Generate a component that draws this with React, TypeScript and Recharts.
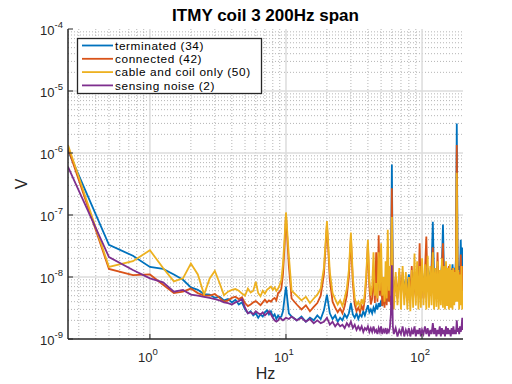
import React from 'react';
import { LineChart, Line, XAxis, YAxis, CartesianGrid } from 'recharts';

// Frequencies (Hz)
const FREQ = [
  0.25, 0.5, 0.75, 1, 1.25, 1.5, 1.75, 2, 2.25, 2.5,
  2.75, 3, 3.25, 3.5, 3.75, 4, 4.25, 4.5, 4.75, 5,
  5.25, 5.5, 5.75, 6, 6.25, 6.5, 6.75, 7, 7.25, 7.5,
  7.75, 8, 8.25, 8.5, 8.75, 9, 9.25, 9.5, 9.75, 10,
  10.5, 11, 12, 13, 14, 15, 16, 17, 18, 19,
  20, 21, 22, 23, 24, 25, 26, 27, 28, 29,
  30, 31, 32, 33, 34, 35, 36, 37, 38, 39,
  40, 41, 42, 43, 44, 45, 46, 47, 48, 49,
  50, 51, 52, 53, 54, 55, 56, 57, 58, 59,
  60, 61, 62, 64, 66, 68, 70, 72, 74, 76,
  78, 80, 82, 84, 86, 88, 90, 92, 94, 96,
  98, 100, 102.5, 105, 107.5, 110, 112.5, 115, 117.5, 120,
  122.5, 125, 127.5, 130, 132.5, 135, 137.5, 140, 142.5, 145,
  147.5, 150, 152.5, 155, 157.5, 160, 162.5, 165, 167.5, 170,
  172.5, 175, 177.5, 180, 182.5, 185, 187.5, 190, 192.5, 195,
  197.5, 200,
];

const TERMINATED = [
  1.1e-6, 3.3e-8, 2.2e-8, 1.45e-8, 1.35e-8, 1.1e-8, 9e-9, 6.8e-9, 6.2e-9, 5.3e-9,
  5.2e-9, 4.6e-9, 4.8e-9, 4.2e-9, 4.4e-9, 3.9e-9, 4.3e-9, 3.6e-9, 3.9e-9, 3.0e-9,
  2.6e-9, 2.8e-9, 2.4e-9, 2.6e-9, 2.2e-9, 2.5e-9, 2.3e-9, 2.7e-9, 2.9e-9, 2.5e-9,
  2.8e-9, 2.3e-9, 2.5e-9, 2.1e-9, 2.4e-9, 2.2e-9, 2.3e-9, 2.8e-9, 4.5e-9, 7e-9,
  2.6e-9, 2.3e-9, 2.0e-9, 2.3e-9, 1.9e-9, 2.2e-9, 2.0e-9, 2.4e-9, 2.1e-9, 2.9e-9,
  5.2e-9, 2.6e-9, 2.1e-9, 2.4e-9, 1.9e-9, 2.2e-9, 2.0e-9, 2.5e-9, 2.2e-9, 2.6e-9,
  3.8e-9, 2.5e-9, 2.2e-9, 2.6e-9, 2.1e-9, 2.5e-9, 2.3e-9, 2.8e-9, 2.4e-9, 2.9e-9,
  3.5e-9, 2.7e-9, 3.0e-9, 2.6e-9, 3.2e-9, 2.8e-9, 3.5e-9, 3.0e-9, 3.8e-9, 3.3e-9,
  4.2e-9, 3.4e-9, 4.5e-9, 3.7e-9, 5e-9, 4e-9, 5.5e-9, 4.4e-9, 6e-9, 5e-9,
  6.5e-7, 8e-9, 5e-9, 9e-9, 5.5e-9, 8e-9, 6e-9, 1.0e-8, 7e-9, 9e-9,
  6.5e-9, 1.1e-8, 7e-9, 9.5e-9, 6e-9, 1.2e-8, 7.5e-9, 1.0e-8, 6.5e-9, 1.3e-8,
  8e-9, 1.1e-8, 7e-9, 1.2e-8, 8e-9, 1.4e-8, 9e-9, 1.2e-8, 1.5e-8, 7.8e-8,
  1.0e-8, 1.3e-8, 8e-9, 1.5e-8, 9e-9, 1.2e-8, 1.0e-8, 1.6e-8, 7e-8, 1.1e-8,
  8e-9, 1.3e-8, 9e-9, 1.2e-8, 1.5e-8, 9e-9, 1.3e-8, 1.0e-8, 1.6e-8, 9e-9,
  1.4e-8, 1.0e-8, 2e-8, 3e-6, 2e-8, 1.1e-8, 1.5e-8, 9e-9, 4e-8, 1.2e-8,
  3e-8, 1.0e-8,
];

const CONNECTED = [
  1.2e-6, 1.35e-8, 1.07e-8, 1.1e-8, 7.5e-9, 5.5e-9, 5.8e-9, 6.5e-9, 5.5e-9, 5.0e-9,
  5.0e-9, 5.3e-9, 4.6e-9, 4.0e-9, 4.2e-9, 4.6e-9, 4.8e-9, 4.4e-9, 4.7e-9, 3.8e-9,
  3.4e-9, 3.6e-9, 3.9e-9, 4.1e-9, 3.8e-9, 3.5e-9, 3.9e-9, 4.3e-9, 3.9e-9, 4.2e-9,
  4.0e-9, 4.4e-9, 4.6e-9, 4.2e-9, 5.5e-9, 5.8e-9, 6.5e-9, 1.1e-8, 3e-8, 1.0e-7,
  1.5e-8, 4.5e-9, 3.6e-9, 3.0e-9, 3.5e-9, 2.8e-9, 3.3e-9, 3.8e-9, 5e-9, 1.1e-8,
  7e-8, 9e-9, 4e-9, 3.2e-9, 2.7e-9, 3.1e-9, 2.6e-9, 3.4e-9, 5e-9, 1.0e-8,
  4.5e-8, 8e-9, 3.6e-9, 2.8e-9, 3.2e-9, 2.7e-9, 3.4e-9, 2.9e-9, 4.5e-9, 1.0e-8,
  3.5e-8, 7e-9, 3.6e-9, 4.5e-9, 1.2e-8, 3.8e-9, 2.5e-8, 4e-9, 4.7e-8, 5e-9,
  1.2e-8, 3.4e-9, 6e-9, 3.2e-9, 9e-9, 3.5e-9, 3e-8, 4e-9, 8e-9, 3.5e-9,
  2.7e-7, 6e-9, 4e-9, 1.0e-8, 4.5e-9, 1.2e-8, 5e-9, 1.2e-8, 4.5e-9, 8e-9,
  4e-9, 1.0e-8, 5e-9, 1.5e-8, 4.5e-9, 9e-9, 5e-9, 1.1e-8, 5e-9, 3.5e-8,
  5e-9, 1.0e-8, 4.5e-9, 1.2e-8, 4.5e-8, 6e-9, 1.0e-8, 5e-9, 1.3e-8, 3e-8,
  6e-9, 1.2e-8, 5e-9, 2.5e-8, 6e-9, 1.1e-8, 5e-9, 1.5e-8, 3.5e-8, 6e-9,
  1.4e-8, 5e-9, 1.2e-8, 6e-9, 1.5e-8, 5e-9, 1.2e-8, 6e-9, 1.4e-8, 5.5e-9,
  1.3e-8, 6e-9, 1.5e-8, 1.35e-6, 1.5e-8, 6e-9, 1.2e-8, 5e-9, 2.3e-8, 6e-9,
  1.5e-8, 5e-9,
];

const CABLE_COIL = [
  1.35e-6, 1.45e-8, 1.8e-8, 2.7e-8, 1.4e-8, 8.5e-9, 9.5e-9, 1.65e-8, 1.1e-8, 5.2e-9,
  9.5e-9, 1.25e-8, 8e-9, 5.1e-9, 5.8e-9, 6.2e-9, 6.4e-9, 6.0e-9, 5.4e-9, 5.0e-9,
  6.5e-9, 5.6e-9, 6.0e-9, 8.4e-9, 5.5e-9, 4.9e-9, 6.0e-9, 5.4e-9, 6.2e-9, 6.6e-9,
  7.0e-9, 6.2e-9, 6.8e-9, 6.0e-9, 6.5e-9, 7.5e-9, 9e-9, 1.6e-8, 4e-8, 1.1e-7,
  2.2e-8, 6e-9, 5e-9, 4.2e-9, 4.8e-9, 3.8e-9, 4.5e-9, 5.2e-9, 6.5e-9, 1.4e-8,
  8e-8, 1.2e-8, 5.5e-9, 4.4e-9, 3.6e-9, 4.2e-9, 3.4e-9, 4.6e-9, 6.5e-9, 1.3e-8,
  5.2e-8, 1e-8, 4.6e-9, 3.5e-9, 4.0e-9, 3.3e-9, 4.4e-9, 3.6e-9, 5.5e-9, 1.2e-8,
  4e-8, 9e-9, 5e-9, 7e-9, 2.5e-8, 5e-9, 8e-9, 4.5e-9, 2.5e-8, 6e-9,
  3.5e-8, 5e-9, 1.0e-8, 4e-9, 1.8e-8, 4.5e-9, 5.8e-8, 6e-9, 1.5e-8, 5e-9,
  9.3e-8, 5e-9, 3e-9, 1.2e-8, 3.5e-9, 1.4e-8, 3e-9, 1.5e-8, 3.5e-9, 1.2e-8,
  3e-9, 1.0e-8, 2.8e-9, 1.3e-8, 3.2e-9, 2.4e-8, 3.5e-9, 1.8e-8, 3e-9, 1.5e-8,
  3.2e-9, 2.0e-8, 3.5e-9, 1.6e-8, 3e-9, 2.2e-8, 3.2e-9, 1.5e-8, 3.5e-9, 2.5e-8,
  3e-9, 1.4e-8, 3.3e-9, 1.8e-8, 3e-9, 1.3e-8, 3.5e-9, 2.0e-8, 3.2e-9, 1.5e-8,
  3e-9, 1.8e-8, 3.4e-9, 1.4e-8, 3e-9, 1.6e-8, 3.2e-9, 1.3e-8, 3e-9, 1.4e-8,
  3.5e-9, 1.2e-8, 4e-9, 4.8e-7, 4e-9, 1.3e-8, 3e-9, 1.1e-8, 3.5e-9, 1.5e-8,
  3e-9, 6e-9,
];

const SENSING = [
  6e-7, 2.1e-8, 1.3e-8, 9.5e-9, 8.2e-9, 5.8e-9, 6.2e-9, 5.2e-9, 5.0e-9, 4.8e-9,
  4.6e-9, 4.4e-9, 4.2e-9, 3.9e-9, 3.8e-9, 3.6e-9, 3.9e-9, 4.1e-9, 4.4e-9, 3.2e-9,
  2.6e-9, 2.7e-9, 2.5e-9, 2.8e-9, 2.6e-9, 2.5e-9, 2.7e-9, 2.4e-9, 2.6e-9, 2.8e-9,
  2.5e-9, 2.2e-9, 2.0e-9, 1.9e-9, 2.0e-9, 2.2e-9, 2.1e-9, 2.0e-9, 2.1e-9, 2.2e-9,
  2.1e-9, 2.3e-9, 2.0e-9, 2.2e-9, 1.9e-9, 2.1e-9, 1.8e-9, 2.0e-9, 1.8e-9, 1.9e-9,
  2.2e-9, 1.7e-9, 1.9e-9, 1.6e-9, 1.8e-9, 1.6e-9, 1.7e-9, 1.5e-9, 1.8e-9, 1.6e-9,
  1.9e-9, 1.5e-9, 1.7e-9, 1.4e-9, 1.6e-9, 1.4e-9, 1.6e-9, 1.3e-9, 1.5e-9, 1.4e-9,
  1.6e-9, 1.3e-9, 1.5e-9, 1.3e-9, 1.6e-9, 1.3e-9, 1.4e-9, 1.2e-9, 1.5e-9, 1.3e-9,
  1.6e-9, 1.2e-9, 1.4e-9, 1.3e-9, 1.5e-9, 1.2e-9, 1.4e-9, 1.3e-9, 1.5e-9, 2.5e-9,
  1.55e-8, 1.6e-9, 1.2e-9, 1.5e-9, 1.1e-9, 1.4e-9, 1.2e-9, 1.6e-9, 1.1e-9, 1.4e-9,
  1.2e-9, 1.5e-9, 1.1e-9, 1.4e-9, 1.2e-9, 1.6e-9, 1.1e-9, 1.4e-9, 1.2e-9, 1.5e-9,
  1.1e-9, 1.4e-9, 1.2e-9, 1.6e-9, 1.2e-9, 1.5e-9, 1.1e-9, 1.4e-9, 1.2e-9, 1.8e-9,
  1.2e-9, 1.5e-9, 1.1e-9, 1.4e-9, 1.2e-9, 1.6e-9, 1.1e-9, 1.5e-9, 1.2e-9, 1.4e-9,
  1.1e-9, 1.6e-9, 1.2e-9, 1.5e-9, 1.2e-9, 1.4e-9, 1.1e-9, 1.5e-9, 1.2e-9, 1.6e-9,
  1.2e-9, 1.4e-9, 1.2e-9, 2.0e-9, 1.3e-9, 1.5e-9, 1.2e-9, 1.6e-9, 1.3e-9, 1.5e-9,
  2.2e-9, 1.4e-9,
];

const SERIES_KEYS = ['terminated', 'connected', 'cable', 'sensing'];
const SERIES_NAMES = ['terminated (34)', 'connected (42)', 'cable and coil only (50)', 'sensing noise (2)'];
const SERIES_COLORS = ['#0072BD', '#D95319', '#EDB120', '#7E2F8E'];

const X_DOMAIN = [0.25, 200];
const Y_DOMAIN = [1e-9, 1e-4];
const X_DECADES = [1, 10, 100];
const Y_DECADES = [1e-9, 1e-8, 1e-7, 1e-6, 1e-5, 1e-4];
const X_MAJOR_GRID = [1, 10, 100];
const Y_MAJOR_GRID = [1e-8, 1e-7, 1e-6, 1e-5];
const MULTS = [2, 3, 4, 5, 6, 7, 8, 9];
const X_MINOR_GRID = [0.3, 0.4, 0.5, 0.6, 0.7, 0.8, 0.9]
  .concat(MULTS.map((m) => m))
  .concat(MULTS.map((m) => m * 10));
const Y_MINOR_GRID = [1e-9, 1e-8, 1e-7, 1e-6, 1e-5].flatMap((d) => MULTS.map((m) => m * d));

const TITLE = 'ITMY coil 3 200Hz span';
const X_LABEL = 'Hz';
const Y_LABEL = 'V';

const FONT = '"Liberation Sans", Arial, Helvetica, sans-serif';
const AXIS_COLOR = '#262626';

const data = FREQ.map((f, i) => ({
  f,
  terminated: TERMINATED[i],
  connected: CONNECTED[i],
  cable: CABLE_COIL[i],
  sensing: SENSING[i],
}));

const XTick = (props: any) => {
  const { x, y, payload } = props;
  const exp = Math.round(Math.log10(payload.value));
  return (
    <text x={x - 2} y={y + 23} textAnchor="middle" fontSize={13} fill={AXIS_COLOR} fontFamily={FONT}>
      10
      <tspan dy={-7} fontSize={9.5}>{exp}</tspan>
    </text>
  );
};

const YTick = (props: any) => {
  const { x, y, payload } = props;
  const exp = Math.round(Math.log10(payload.value));
  return (
    <text x={x} y={y + 6} textAnchor="end" fontSize={13} fill={AXIS_COLOR} fontFamily={FONT}>
      10
      <tspan dy={-7} fontSize={9.5}>{exp}</tspan>
    </text>
  );
};

const Empty = () => <g />;

export default function App() {
  return (
    <div style={{ position: 'absolute', left: 0, top: 0, width: 512, height: 384, background: '#ffffff' }}>
      <LineChart
        width={512}
        height={384}
        data={data}
        margin={{ top: 29, right: 49, left: 0, bottom: 0 }}
      >
        <CartesianGrid
          horizontalValues={Y_MINOR_GRID}
          verticalValues={X_MINOR_GRID}
          stroke="#b5b5b5"
          strokeDasharray="1 2"
          strokeWidth={1}
          fill="none"
        />
        <CartesianGrid
          horizontalValues={Y_MAJOR_GRID}
          verticalValues={X_MAJOR_GRID}
          stroke="#dcdcdc"
          strokeWidth={1.5}
          fill="none"
        />
        <XAxis
          dataKey="f"
          type="number"
          scale="log"
          domain={X_DOMAIN}
          allowDataOverflow
          ticks={X_DECADES}
          interval={0}
          height={45}
          tickSize={-5}
          tickMargin={5}
          tick={<XTick />}
          axisLine={{ stroke: AXIS_COLOR, strokeWidth: 1.5 }}
          tickLine={{ stroke: AXIS_COLOR, strokeWidth: 1 }}
        />
        <XAxis
          xAxisId="top"
          orientation="top"
          dataKey="f"
          type="number"
          scale="log"
          domain={X_DOMAIN}
          allowDataOverflow
          ticks={X_DECADES}
          interval={0}
          height={0}
          tickSize={-5}
          tick={<Empty />}
          axisLine={{ stroke: AXIS_COLOR, strokeWidth: 1.5 }}
          tickLine={{ stroke: AXIS_COLOR, strokeWidth: 1 }}
        />
        <YAxis
          type="number"
          scale="log"
          domain={Y_DOMAIN}
          allowDataOverflow
          ticks={Y_DECADES}
          interval={0}
          width={68}
          tickSize={-5}
          tickMargin={10}
          tick={<YTick />}
          axisLine={{ stroke: AXIS_COLOR, strokeWidth: 1.5 }}
          tickLine={{ stroke: AXIS_COLOR, strokeWidth: 1 }}
        />
        <YAxis
          yAxisId="right"
          orientation="right"
          type="number"
          scale="log"
          domain={Y_DOMAIN}
          allowDataOverflow
          ticks={Y_DECADES}
          interval={0}
          width={0}
          tickSize={-5}
          tick={<Empty />}
          axisLine={{ stroke: AXIS_COLOR, strokeWidth: 1.5 }}
          tickLine={{ stroke: AXIS_COLOR, strokeWidth: 1 }}
        />
        {SERIES_KEYS.map((k, i) => (
          <Line
            key={k}
            type="linear"
            dataKey={k}
            name={SERIES_NAMES[i]}
            stroke={SERIES_COLORS[i]}
            strokeWidth={1.8}
            dot={false}
            activeDot={false}
            isAnimationActive={false}
          />
        ))}
      </LineChart>
      <svg
        width={512}
        height={384}
        style={{ position: 'absolute', left: 0, top: 0, pointerEvents: 'none' }}
        fontFamily={FONT}
      >
        <text x={265.5} y={21} textAnchor="middle" fontSize={17} fontWeight="bold" fill="#000">
          {TITLE}
        </text>
        <text x={265.5} y={379} textAnchor="middle" fontSize={16} fill={AXIS_COLOR}>
          {X_LABEL}
        </text>
        <text transform="translate(27,184) rotate(-90)" textAnchor="middle" fontSize={16} fill={AXIS_COLOR}>
          {Y_LABEL}
        </text>
        <rect x={77.5} y={38.5} width={184} height={55} fill="#ffffff" stroke={AXIS_COLOR} strokeWidth={1.3} />
        {SERIES_NAMES.map((name, i) => {
          const cy = 45.5 + i * 13.3;
          return (
            <g key={name}>
              <line x1={82} x2={113} y1={cy} y2={cy} stroke={SERIES_COLORS[i]} strokeWidth={1.8} />
              <text x={115} y={cy + 4.3} fontSize={11.8} letterSpacing={0.6} fill="#000">
                {name}
              </text>
            </g>
          );
        })}
      </svg>
    </div>
  );
}
